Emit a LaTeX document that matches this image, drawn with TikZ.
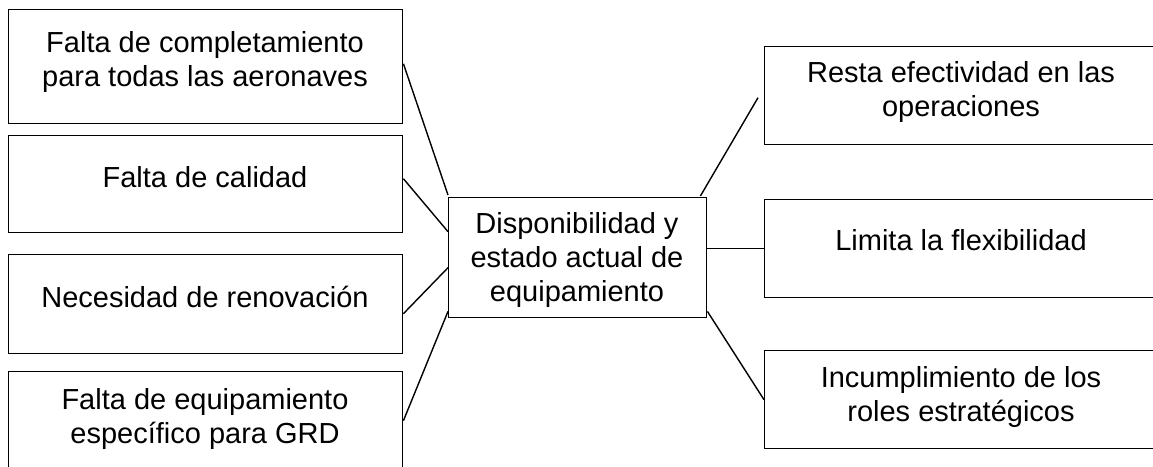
\documentclass[tikz,border=0pt]{standalone}
\usepackage{fontspec}
\setmainfont{Liberation Sans}
\begin{document}
\begin{tikzpicture}[x=1pt,y=-1pt,
  box/.style={draw=black, line width=1.4pt, fill=white, inner sep=0pt, anchor=north west},
  txt/.style={font=\fontsize{29}{34}\selectfont, align=center, inner sep=0pt, text=black},
  conn/.style={draw=black, line width=1.4pt}]
\clip (0,0) rectangle (1153,466);
\fill[white] (0,0) rectangle (1153,466);
% left boxes
\node[box, minimum width=394, minimum height=114] (l1) at (8,9) {};
\node[box, minimum width=394, minimum height=97] (l2) at (8,135) {};
\node[box, minimum width=394, minimum height=99] (l3) at (8,254) {};
\node[box, minimum width=394, minimum height=109] (l4) at (8,371) {};
% centre
\node[box, minimum width=258, minimum height=120] (c) at (448,197) {};
% right boxes
\node[box, minimum width=400, minimum height=98] (r1) at (764,46) {};
\node[box, minimum width=400, minimum height=98] (r2) at (764,199) {};
\node[box, minimum width=400, minimum height=98] (r3) at (764,350) {};
% texts
\node[txt] (t1) at (205,62) {Falta de completamiento\\para todas las aeronaves};
\node[txt] (t2) at (205,177) {Falta de calidad};
\node[txt] (t3) at (205,297) {Necesidad de renovación};
\node[txt] (t4) at (205,419) {Falta de equipamiento\\específico para GRD};
\node[txt] (tc) at (577,260) {Disponibilidad y\\estado actual de\\equipamiento};
\node[txt] (tr1) at (961,92) {Resta efectividad en las\\operaciones};
\node[txt] (tr2) at (961,240) {Limita la flexibilidad};
\node[txt] (tr3) at (961,397) {Incumplimiento de los\\roles estratégicos};
% connectors
\draw[conn] ([yshift=3pt]l1.east) -- ([yshift=2pt]c.north west);
\draw[conn] ([yshift=5.5pt]l2.east) -- ([yshift=26pt]c.west);
\draw[conn] ([yshift=-9.5pt]l3.east) -- ([yshift=-10pt]c.west);
\draw[conn] ([yshift=5.5pt]l4.east) -- ([yshift=7pt]c.south west);
\draw[conn] ([xshift=-7pt,yshift=1pt]c.north east) -- ([xshift=-6pt,yshift=-2pt]r1.west);
\draw[conn] (c.east |- r2.west) -- (r2.west);
\draw[conn] ([yshift=7pt]c.south east) -- (r3.west);
\end{tikzpicture}
\end{document}
